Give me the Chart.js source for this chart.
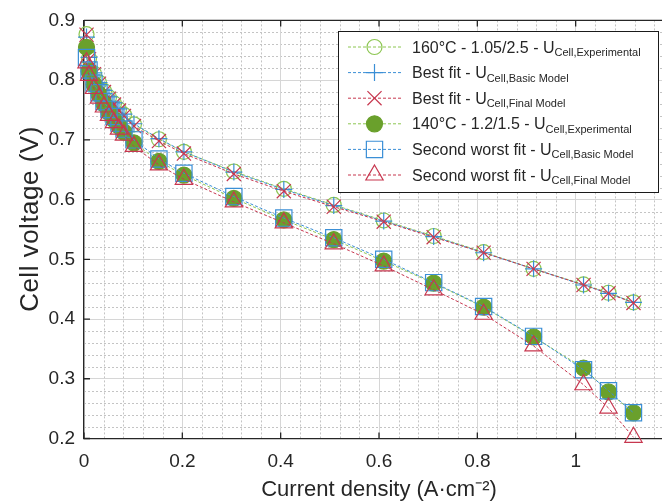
<!DOCTYPE html>
<html>
<head>
<meta charset="utf-8">
<script src="https://cdn.jsdelivr.net/npm/chart.js@4/dist/chart.umd.min.js"></script>
<style>
  html, body { margin: 0; padding: 0; background: #fff; overflow: hidden; }
  #wrap { width: 662px; height: 504px; overflow: hidden; }
</style>
</head>
<body>
<div id="wrap"><canvas id="polChart" width="680" height="504"></canvas></div>
<script>
// Current density (A/cm2), shared by all six curves
const currentDensity = [0.0051, 0.0102, 0.0203, 0.0305, 0.0406, 0.0508, 0.0610, 0.0711, 0.0813, 0.1016,
  0.1524, 0.2032, 0.3048, 0.4064, 0.5080, 0.6096, 0.7112, 0.8128, 0.9144, 1.0160, 1.0668, 1.1176];

// 160 degC, 1.05/2.5 stoichiometry
const u160Exp   = [0.877, 0.836, 0.811, 0.796, 0.782, 0.771, 0.761, 0.751, 0.742, 0.726,
  0.701, 0.680, 0.647, 0.618, 0.591, 0.565, 0.539, 0.512, 0.484, 0.458, 0.444, 0.428];
const u160Basic = [0.872, 0.838, 0.812, 0.796, 0.783, 0.772, 0.762, 0.752, 0.743, 0.727,
  0.702, 0.680, 0.646, 0.617, 0.590, 0.564, 0.538, 0.511, 0.484, 0.457, 0.443, 0.428];
const u160Final = [0.876, 0.835, 0.810, 0.794, 0.780, 0.769, 0.759, 0.749, 0.740, 0.723,
  0.698, 0.677, 0.643, 0.614, 0.588, 0.563, 0.537, 0.511, 0.484, 0.457, 0.443, 0.427];

// 140 degC, 1.2/1.5 stoichiometry
const u140Exp   = [0.855, 0.815, 0.793, 0.776, 0.760, 0.746, 0.734, 0.723, 0.713, 0.695,
  0.664, 0.641, 0.602, 0.566, 0.533, 0.497, 0.460, 0.420, 0.370, 0.318, 0.278, 0.243];
const u140Basic = [0.838, 0.817, 0.795, 0.779, 0.764, 0.751, 0.739, 0.728, 0.718, 0.700,
  0.668, 0.644, 0.605, 0.569, 0.536, 0.500, 0.461, 0.421, 0.371, 0.315, 0.280, 0.243];
const u140Final = [0.829, 0.808, 0.786, 0.770, 0.755, 0.741, 0.729, 0.718, 0.708, 0.689,
  0.658, 0.634, 0.596, 0.561, 0.526, 0.489, 0.449, 0.408, 0.355, 0.290, 0.251, 0.202];

const xTicks = [0, 0.2, 0.4, 0.6, 0.8, 1];
const xTickLabels = ['0', '0.2', '0.4', '0.6', '0.8', '1'];
const yTicks = [0.2, 0.3, 0.4, 0.5, 0.6, 0.7, 0.8, 0.9];
const yTickLabels = ['0.2', '0.3', '0.4', '0.5', '0.6', '0.7', '0.8', '0.9'];

const legendMain = ['160\u00b0C - 1.05/2.5 - U', 'Best fit - U', 'Best fit - U',
  '140\u00b0C - 1.2/1.5 - U', 'Second worst fit - U', 'Second worst fit - U'];
const legendSub = ['Cell,Experimental', 'Cell,Basic Model', 'Cell,Final Model',
  'Cell,Experimental', 'Cell,Basic Model', 'Cell,Final Model'];

const seriesValues = [u160Exp, u160Basic, u160Final, u140Exp, u140Basic, u140Final];

const FONT = "'Liberation Sans', Arial, Helvetica, sans-serif";
const TEXT = '#262626';
const GREEN = '#8cc651';
const GREEN_DARK = '#6aa02c';
const BLUE = '#3b8fd6';
const RED = '#c7374f';

// marker look per series
const seriesStyles = [
  { line: GREEN, stroke: GREEN, fill: 'rgba(0,0,0,0)', shape: 'circle', r: 7.5 },
  { line: BLUE, stroke: BLUE, fill: 'rgba(0,0,0,0)', shape: 'cross', r: 8.5 },
  { line: RED, stroke: RED, fill: 'rgba(0,0,0,0)', shape: 'crossRot', r: 10 },
  { line: GREEN, stroke: GREEN_DARK, fill: GREEN_DARK, shape: 'circle', r: 8 },
  { line: BLUE, stroke: BLUE, fill: 'rgba(0,0,0,0)', shape: 'rect', r: 11.5 },
  { line: RED, stroke: RED, fill: 'rgba(0,0,0,0)', shape: 'triangle', r: 10 }
];
const DASH = [3, 2];

const datasets = seriesValues.map((vals, i) => {
  const st = seriesStyles[i];
  return {
    label: legendMain[i] + legendSub[i],
    data: vals.map((v, k) => ({ x: currentDensity[k], y: v })),
    showLine: true,
    borderColor: st.line,
    borderWidth: 1,
    borderDash: DASH,
    pointStyle: st.shape,
    pointRadius: st.r,
    pointHoverRadius: st.r,
    pointBorderColor: st.stroke,
    pointBackgroundColor: st.fill,
    pointBorderWidth: 1.2,
    clip: false,
    order: 10 - i
  };
});

function drawMarker(ctx, st, x, y) {
  ctx.save();
  ctx.strokeStyle = st.stroke;
  ctx.fillStyle = st.fill;
  ctx.lineWidth = 1.2;
  Chart.helpers.drawPoint(ctx, { pointStyle: st.shape, radius: st.r, rotation: 0, borderWidth: 1.2 }, x, y);
  ctx.restore();
}

// dotted minor grid, drawn before the major grid
const minorGrid = {
  id: 'minorGrid',
  beforeDraw(chart) {
    const { ctx, chartArea: a, scales: { x, y } } = chart;
    ctx.save();
    ctx.fillStyle = '#fff';
    ctx.fillRect(0, 0, chart.width, chart.height);
    ctx.strokeStyle = '#c4c4c4';
    ctx.lineWidth = 1;
    ctx.setLineDash([2, 2]);
    ctx.beginPath();
    for (let k = 1; k * 0.04 < x.max - 1e-9; k++) {
      if (k % 5 === 0) continue;
      const px = Math.round(x.getPixelForValue(k * 0.04)) + 0.5;
      ctx.moveTo(px, a.top);
      ctx.lineTo(px, a.bottom);
    }
    for (let k = 1; y.min + k * 0.02 < y.max - 1e-9; k++) {
      if (k % 5 === 0) continue;
      const py = Math.round(y.getPixelForValue(y.min + k * 0.02)) + 0.5;
      ctx.moveTo(a.left, py);
      ctx.lineTo(a.right, py);
    }
    ctx.stroke();
    ctx.restore();
  }
};

// top border, inward tick marks and the rotated y title
const boxTicks = {
  id: 'boxTicks',
  beforeDatasetsDraw(chart) {
    const { ctx, chartArea: a, scales: { x, y } } = chart;
    ctx.save();
    ctx.strokeStyle = TEXT;
    ctx.lineWidth = 1.3;
    ctx.beginPath();
    ctx.moveTo(a.left, a.top);
    ctx.lineTo(a.right, a.top);
    xTicks.forEach(v => {
      const px = x.getPixelForValue(v);
      ctx.moveTo(px, a.bottom); ctx.lineTo(px, a.bottom - 6);
      ctx.moveTo(px, a.top); ctx.lineTo(px, a.top + 6);
    });
    yTicks.forEach(v => {
      const py = y.getPixelForValue(v);
      ctx.moveTo(a.left, py); ctx.lineTo(a.left + 6, py);
      ctx.moveTo(a.right, py); ctx.lineTo(a.right - 6, py);
    });
    ctx.stroke();

    ctx.translate(31, 219);
    ctx.rotate(-Math.PI / 2);
    ctx.fillStyle = TEXT;
    ctx.font = '26px ' + FONT;
    ctx.letterSpacing = '0.5px';
    ctx.textAlign = 'center';
    ctx.textBaseline = 'middle';
    ctx.fillText('Cell voltage (V)', 0, 0);
    ctx.restore();
  }
};

// boxed legend with subscripted labels
const boxLegend = {
  id: 'boxLegend',
  afterDraw(chart) {
    const ctx = chart.ctx;
    const left = 338, top = 31, w = 320, h = 161, rowH = 25.6;
    ctx.save();
    ctx.fillStyle = '#fff';
    ctx.fillRect(left, top, w, h);
    ctx.strokeStyle = '#1a1a1a';
    ctx.lineWidth = 1;
    ctx.strokeRect(left + 0.5, top + 0.5, w, h);
    seriesStyles.forEach((st, i) => {
      const cy = top + 16 + i * rowH;
      ctx.save();
      ctx.strokeStyle = st.line;
      ctx.lineWidth = 1;
      ctx.setLineDash(DASH);
      ctx.beginPath();
      ctx.moveTo(348, cy);
      ctx.lineTo(401, cy);
      ctx.stroke();
      ctx.restore();
      drawMarker(ctx, st, 374.5, cy);

      ctx.fillStyle = TEXT;
      ctx.textBaseline = 'alphabetic';
      ctx.textAlign = 'left';
      ctx.font = '16px ' + FONT;
      const base = cy + 5.5;
      ctx.fillText(legendMain[i], 412, base);
      const mw = ctx.measureText(legendMain[i]).width;
      ctx.font = '11px ' + FONT;
      ctx.fillText(legendSub[i], 412 + mw, base + 3.5);
    });
    ctx.restore();
  }
};

new Chart(document.getElementById('polChart'), {
  type: 'scatter',
  data: { datasets },
  options: {
    responsive: false,
    animation: false,
    events: [],
    devicePixelRatio: 1,
    layout: { autoPadding: false, padding: { top: 19, right: 6, left: 0, bottom: 0 } },
    plugins: { legend: { display: false }, tooltip: { enabled: false } },
    scales: {
      x: {
        type: 'linear',
        min: 0,
        max: 1.2,
        afterBuildTicks: s => { s.ticks = xTicks.map(v => ({ value: v })); },
        afterFit: s => { s.height = 65.5; },
        grid: { color: '#d6d6d6', lineWidth: 1, drawTicks: false },
        border: { color: TEXT, width: 1.3 },
        ticks: {
          padding: 12, color: TEXT, maxRotation: 0, autoSkip: false,
          font: { family: FONT, size: 19 },
          callback: (v, i) => xTickLabels[i]
        },
        title: {
          display: true, text: 'Current density (A\u00b7cm\u207b\u00b2)', color: TEXT,
          font: { family: FONT, size: 22 }, padding: { top: 0, bottom: 1 }
        }
      },
      y: {
        type: 'linear',
        min: 0.2,
        max: 0.9,
        afterBuildTicks: s => { s.ticks = yTicks.map(v => ({ value: v })); },
        afterFit: s => { s.width = 84; },
        grid: { color: '#d6d6d6', lineWidth: 1, drawTicks: false },
        border: { color: TEXT, width: 1.3 },
        ticks: {
          padding: 9, color: TEXT, autoSkip: false,
          font: { family: FONT, size: 19 },
          callback: (v, i) => yTickLabels[i]
        }
      }
    }
  },
  plugins: [minorGrid, boxTicks, boxLegend]
});
</script>
</body>
</html>
